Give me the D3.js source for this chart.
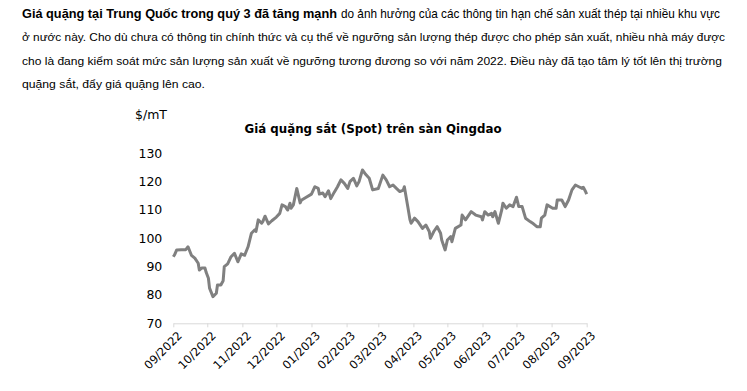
<!DOCTYPE html>
<html><head><meta charset="utf-8">
<script src="https://cdn.jsdelivr.net/npm/d3@7"></script>
<style>body{margin:0;background:#fff}svg{display:block}</style>
</head><body>
<svg id="c" width="747" height="391"></svg>
<script>
const dates = ["2022-09-01","2022-09-02","2022-09-04","2022-09-08","2022-09-12","2022-09-14","2022-09-17","2022-09-20","2022-09-23","2022-09-24","2022-09-26","2022-09-29","2022-09-30",
"2022-10-02","2022-10-03","2022-10-06","2022-10-09","2022-10-10","2022-10-13","2022-10-15","2022-10-16","2022-10-19","2022-10-22","2022-10-25","2022-10-28","2022-10-31",
"2022-11-03","2022-11-06","2022-11-09","2022-11-12","2022-11-13","2022-11-15","2022-11-18","2022-11-19","2022-11-21","2022-11-24","2022-11-27",
"2022-12-01","2022-12-04","2022-12-06","2022-12-09","2022-12-10","2022-12-11","2022-12-13","2022-12-14","2022-12-16","2022-12-19","2022-12-22","2022-12-23","2022-12-27",
"2023-01-01","2023-01-04","2023-01-07","2023-01-08","2023-01-11","2023-01-13","2023-01-16","2023-01-18","2023-01-21","2023-01-24","2023-01-27","2023-01-30",
"2023-02-02","2023-02-04","2023-02-07","2023-02-10","2023-02-12","2023-02-15","2023-02-18","2023-02-21","2023-02-24",
"2023-03-01","2023-03-05","2023-03-08","2023-03-11","2023-03-14","2023-03-17","2023-03-20","2023-03-23","2023-03-24","2023-03-27","2023-03-29","2023-03-30",
"2023-04-02","2023-04-05","2023-04-09","2023-04-12","2023-04-15","2023-04-16","2023-04-19","2023-04-22","2023-04-25","2023-04-26","2023-04-29",
"2023-05-01","2023-05-04","2023-05-05","2023-05-08","2023-05-13","2023-05-14","2023-05-17","2023-05-22","2023-05-26","2023-05-31",
"2023-06-01","2023-06-03","2023-06-06","2023-06-09","2023-06-10","2023-06-12","2023-06-15","2023-06-18","2023-06-19","2023-06-22","2023-06-25","2023-06-28",
"2023-07-01","2023-07-03","2023-07-06","2023-07-09","2023-07-13","2023-07-16","2023-07-19","2023-07-22","2023-07-23","2023-07-26","2023-07-28",
"2023-08-02","2023-08-05","2023-08-06","2023-08-10","2023-08-13","2023-08-16","2023-08-19","2023-08-22","2023-08-25","2023-08-28","2023-08-29","2023-08-31","2023-09-01"];
const prices = [93.5,94.1,95.9,96,96,97,94,93,91.2,88.8,89.5,89.5,88,
85.9,82.4,79.4,80.6,83.5,83.5,85,90,91,93.5,94.7,91.7,94.5,
94,97,101.8,103,102.4,106.5,105.3,105.9,107.8,105.1,106.2,
107.5,108.8,111.8,111.2,110.5,110,112.4,110.6,111.8,117.6,112.5,113.4,114.4,
115.6,118.2,117.6,115.6,116,114.7,116.8,114,116.2,118.2,120.6,119.4,
117.6,120,121.2,118.5,120,124.1,122.5,121.2,117.1,
117.6,122.3,120.6,118.2,118.8,117.6,116.5,117,118.2,111.2,106.5,105.3,
107.1,105.9,103.5,104.7,102.4,100,102.4,104.1,101.8,99.4,95.9,
99.4,100.6,98.8,103.5,104.7,108.2,106.5,109.4,108.2,107.6,
106.5,109.4,108.2,108.8,107.6,109.4,105.3,110,112.4,110.6,111.8,111.2,
114.5,111.2,111.2,107.1,105.9,105.1,104.1,104.1,107.1,108.2,111.8,
110.6,110.6,113.5,113.5,111.2,113.5,117.1,118.8,118.2,117.6,118,116.5,115.6];
const yTicks = [70,80,90,100,110,120,130];
const xTickLabels = ["09/2022","10/2022","11/2022","12/2022","01/2023","02/2023","03/2023","04/2023","05/2023","06/2023","07/2023","08/2023","09/2023"];
const bodyBold = "Giá quặng tại Trung Quốc trong quý 3 đã tăng mạnh";
const bodyLines = ["do ảnh hưởng của các thông tin hạn chế sản xuất thép tại nhiều khu vực",
"ở nước này. Cho dù chưa có thông tin chính thức và cụ thể về ngưỡng sản lượng thép được cho phép sản xuất, nhiều nhà máy được",
"cho là đang kiểm soát mức sản lượng sản xuất về ngưỡng tương đương so với năm 2022. Điều này đã tạo tâm lý tốt lên thị trường",
"quặng sắt, đẩy giá quặng lên cao."];
const chartTitle = "Giá quặng sắt (Spot) trên sàn Qingdao";
const unitLabel = "$/mT";

const svg = d3.select("#c");
const font = "'Liberation Sans', Arial, sans-serif";
const tfont = "Tahoma, 'DejaVu Sans', sans-serif";
const parse = d3.timeParse("%Y-%m-%d");
const data = dates.map((d,i)=>({d:parse(d), v:prices[i]}));

// paragraph
svg.append("text").attr("x",22).attr("y",18).attr("font-family",font).attr("font-size",12.2)
  .attr("font-weight","bold").attr("fill","#000").attr("textLength",315).attr("lengthAdjust","spacingAndGlyphs").text(bodyBold);
svg.append("text").attr("x",341).attr("y",18).attr("font-family",font).attr("font-size",12.2)
  .attr("fill","#000").attr("textLength",379).attr("lengthAdjust","spacingAndGlyphs").text(bodyLines[0]);
const lineY=[41,65,88], lineW=[703,700,183];
for(let i=1;i<4;i++){
  svg.append("text").attr("x",22).attr("y",lineY[i-1]).attr("font-family",font).attr("font-size",11.8)
    .attr("fill","#000").attr("textLength",lineW[i-1]).attr("lengthAdjust","spacingAndGlyphs").text(bodyLines[i]);
}

const x = d3.scaleTime().domain([parse("2022-09-01"), parse("2023-09-01")]).range([173.3, 586.7]);
const y = d3.scaleLinear().domain([70,130]).range([323.3,153.3]);

svg.append("text").attr("x",135).attr("y",119).attr("font-family",tfont).attr("font-size",12.5).attr("fill","#000").text(unitLabel);
svg.append("text").attr("x",373).attr("y",133).attr("text-anchor","middle").attr("font-family",tfont).attr("font-size",13)
  .attr("font-weight","bold").attr("fill","#000").attr("textLength",257).attr("lengthAdjust","spacingAndGlyphs").text(chartTitle);

// y labels
const ya = svg.append("g").attr("transform","translate(173.3,0)")
  .call(d3.axisLeft(y).tickValues(yTicks).tickSize(0).tickPadding(11));
ya.select(".domain").remove();
ya.selectAll("text").attr("font-family",tfont).attr("font-size",12.5).attr("fill","#000");

// x axis
const monthDates = xTickLabels.map(s=>{const [m,yy]=s.split("/");return new Date(+yy, +m-1, 1);});
const xa = svg.append("g").attr("transform","translate(0,323.3)")
  .call(d3.axisBottom(x).tickValues(monthDates).tickFormat((d,i)=>xTickLabels[i]).tickSize(4).tickSizeOuter(0));
xa.select(".domain").attr("stroke","#d9d9d9");
xa.selectAll(".tick line").attr("stroke","#d9d9d9");
xa.selectAll("text").attr("font-family",tfont).attr("font-size",11.5).attr("fill","#000")
  .attr("text-anchor","end").attr("dy",0).attr("transform","translate(4,8) rotate(-45)");

svg.append("path").datum(data)
  .attr("fill","none").attr("stroke","#808080").attr("stroke-width",3).attr("stroke-linejoin","round")
  .attr("d", d3.line().x(d=>x(d.d)).y(d=>y(d.v)));
</script>
</body></html>
